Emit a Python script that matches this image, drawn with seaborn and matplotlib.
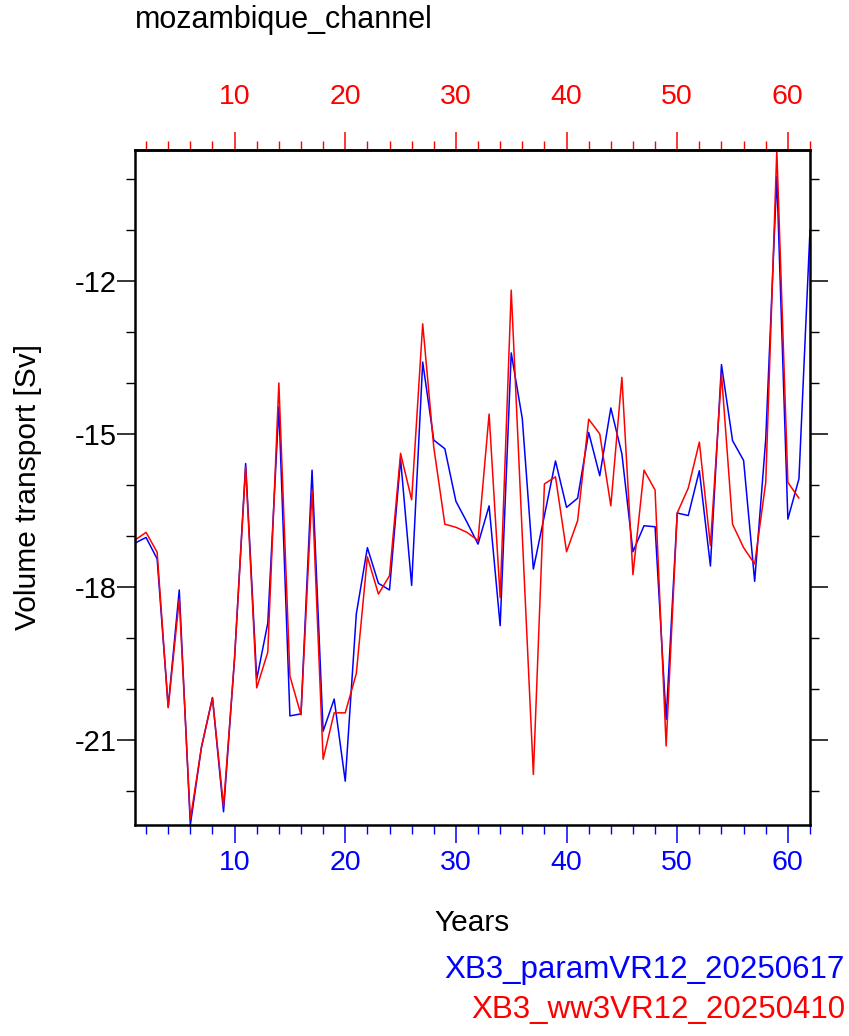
import matplotlib
matplotlib.use("Agg")
import matplotlib.pyplot as plt
from matplotlib.ticker import FixedLocator, MultipleLocator
import numpy as np
import pandas as pd
import seaborn as sns

TITLE = "mozambique_channel"
LABEL_PARAM = "XB3_paramVR12_20250617"
LABEL_WW3 = "XB3_ww3VR12_20250410"

# Annual volume transport [Sv]
param_sv = [
    -17.14, -17.03, -17.45, -20.35, -18.06, -22.67, -21.15, -20.17, -22.41, -19.39,
    -15.58, -19.81, -18.71, -14.47, -20.53, -20.49, -15.71, -20.83, -20.20, -21.81,
    -18.53, -17.23, -17.93, -18.06, -15.49, -17.97, -13.59, -15.12, -15.29, -16.32,
    -16.73, -17.16, -16.41, -18.76, -13.41, -14.70, -17.65, -16.60, -15.53, -16.44,
    -16.26, -14.97, -15.82, -14.49, -15.39, -17.31, -16.80, -16.82, -20.60, -16.55,
    -16.60, -15.72, -17.59, -13.64, -15.13, -15.52, -17.89, -15.10, -9.95, -16.67,
    -15.88, -11.00,
]
ww3_sv = [
    -17.08, -16.93, -17.32, -20.37, -18.24, -22.56, -21.15, -20.18, -22.30, -19.39,
    -15.65, -19.98, -19.28, -14.00, -19.75, -20.51, -16.10, -21.38, -20.47, -20.47,
    -19.70, -17.41, -18.14, -17.78, -15.38, -16.29, -12.84, -15.26, -16.77, -16.83,
    -16.93, -17.09, -14.61, -18.21, -12.18, -17.00, -21.68, -15.98, -15.84, -17.31,
    -16.70, -14.71, -15.00, -16.41, -13.89, -17.76, -15.71, -16.10, -21.12, -16.55,
    -16.06, -15.16, -17.19, -13.82, -16.77, -17.23, -17.55, -15.95, -9.43, -15.95,
    -16.26,
]
years_param = np.arange(1, len(param_sv) + 1)
years_ww3 = np.arange(1, len(ww3_sv) + 1)
x_major = [10, 20, 30, 40, 50, 60]
x_minor = list(range(2, 63, 2))

sns.set_style("white")
plt.rcParams["font.family"] = ["Liberation Sans", "DejaVu Sans"]
plt.rcParams["axes.unicode_minus"] = False
plt.rcParams["text.color"] = "black"
plt.rcParams["axes.labelcolor"] = "black"

fig = plt.figure(figsize=(8.49, 10.36), dpi=100)
ax = fig.add_axes([135 / 849, 1 - 825 / 1036, 675 / 849, 675 / 1036])

df_p = pd.DataFrame({"year": years_param, "sv": param_sv})
df_w = pd.DataFrame({"year": years_ww3, "sv": ww3_sv})
sns.lineplot(data=df_p, x="year", y="sv", color="blue", lw=1.1, ax=ax)
sns.lineplot(data=df_w, x="year", y="sv", color="red", lw=1.1, ax=ax)

ax.set_xlim(1, len(param_sv))
ax.set_ylim(min(min(param_sv), min(ww3_sv)), max(max(param_sv), max(ww3_sv)))

for s in ax.spines.values():
    s.set_visible(True)
    s.set_color("black")
    s.set_linewidth(1.8)

ax.xaxis.set_major_locator(FixedLocator(x_major))
ax.xaxis.set_minor_locator(FixedLocator(x_minor))
ax.yaxis.set_major_locator(MultipleLocator(3))
ax.yaxis.set_minor_locator(MultipleLocator(1))

ax.tick_params(axis="x", which="both", direction="out", colors="blue",
               bottom=True, top=False, labelsize=20.5)
ax.tick_params(axis="x", which="major", length=13, width=1.1, pad=5)
ax.tick_params(axis="x", which="minor", length=6.5, width=1.0)
ax.tick_params(axis="y", which="both", direction="out", colors="black",
               left=True, right=True, labelsize=21)
ax.tick_params(axis="y", which="major", length=13, width=1.1, pad=0)
ax.tick_params(axis="y", which="minor", length=6.5, width=1.0)

top = ax.secondary_xaxis("top")
top.xaxis.set_major_locator(FixedLocator(x_major))
top.xaxis.set_minor_locator(FixedLocator(x_minor))
top.tick_params(axis="x", which="both", direction="out", colors="red", labelsize=20.5)
top.tick_params(axis="x", which="major", length=13, width=1.1, pad=16)
top.tick_params(axis="x", which="minor", length=6.5, width=1.0)
top.spines["top"].set_color("black")
top.spines["top"].set_linewidth(1.8)

ax.set_xlabel("Years", fontsize=21.5, labelpad=24)
ax.set_ylabel("Volume transport [Sv]", fontsize=21.5, labelpad=24)

fig.text(135 / 849, 1 - 20 / 1036, TITLE, fontsize=22, ha="left", va="center")
fig.text(845 / 849, 1 - 970 / 1036, LABEL_PARAM, fontsize=22.5, color="blue",
         ha="right", va="center")
fig.text(845 / 849, 1 - 1010 / 1036, LABEL_WW3, fontsize=22.5, color="red",
         ha="right", va="center")

fig.savefig("out.png", dpi=100)
